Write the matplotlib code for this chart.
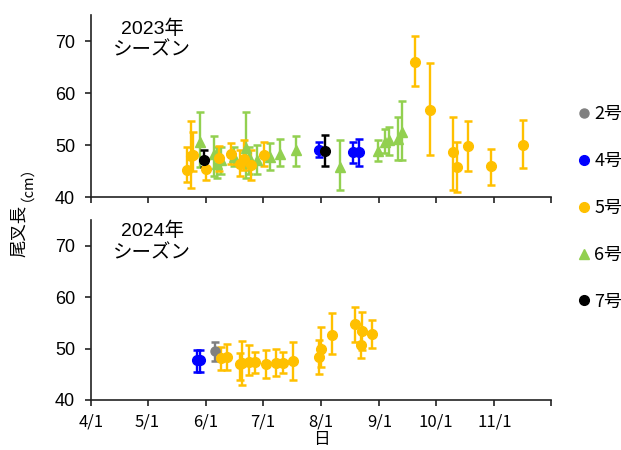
import matplotlib
matplotlib.use("Agg")
import matplotlib.pyplot as plt
from matplotlib.lines import Line2D
import pandas as pd

plt.rcParams['font.family'] = ['Liberation Sans', 'Noto Sans CJK JP', 'DejaVu Sans']

# ---------------- data ----------------
# 2023 season : date (MM-DD), mean, lower end, upper end
y23_5_dates = ["05-22", "05-24", "05-25", "06-01", "06-08", "06-14", "06-19", "06-21", "06-25", "07-02",
               "09-20", "09-28", "10-10", "10-12", "10-18", "10-30", "11-16"]
y23_5_mean = [45.1, 47.8, 48.0, 45.3, 47.5, 48.3, 46.4, 47.3, 46.2, 48.0, 66.0, 56.7, 48.6, 45.7, 49.8, 45.9, 50.0]
y23_5_lo = [42.9, 41.8, 45.0, 43.3, 45.0, 46.4, 44.0, 45.1, 43.3, 46.0, 61.3, 48.0, 41.4, 41.0, 45.0, 42.4, 45.5]
y23_5_hi = [49.6, 54.6, 52.5, 47.3, 49.9, 50.4, 49.0, 50.9, 49.0, 50.6, 70.9, 65.8, 55.4, 50.5, 54.6, 49.3, 54.8]

y23_6_dates = ["05-29", "06-05", "06-07", "06-09", "06-16", "06-22", "06-24", "06-28", "07-05", "07-10",
               "07-19", "08-11", "08-31", "09-04", "09-06", "09-11", "09-13"]
y23_6_mean = [50.6, 48.2, 46.3, 47.1, 47.7, 49.4, 47.7, 47.1, 47.7, 48.3, 49.0, 45.8, 48.8, 50.6, 50.9, 51.2, 52.5]
y23_6_lo = [45.8, 44.0, 43.6, 44.4, 45.9, 43.6, 44.5, 44.5, 45.1, 46.0, 46.0, 41.3, 46.9, 48.4, 48.1, 47.1, 47.1]
y23_6_hi = [56.3, 51.7, 49.6, 49.6, 49.6, 56.3, 49.7, 50.0, 50.3, 51.2, 51.8, 50.9, 50.9, 53.1, 53.4, 55.4, 58.4]

y23_4_dates = ["07-31", "08-18", "08-21"]
y23_4_mean = [49.0, 48.6, 48.6]
y23_4_lo = [47.7, 46.5, 45.9]
y23_4_hi = [50.6, 50.6, 51.2]

y23_7_dates = ["05-31", "08-03"]
y23_7_mean = [47.1, 48.9]
y23_7_lo = [45.8, 45.9]
y23_7_hi = [49.0, 51.9]

# 2024 season
y24_4_dates = ["05-27", "05-29"]
y24_4_mean = [47.7, 47.7]
y24_4_lo = [45.5, 45.4]
y24_4_hi = [49.8, 49.8]

y24_2_dates = ["06-06"]
y24_2_mean = [49.5]
y24_2_lo = [47.6]
y24_2_hi = [51.3]

y24_5_dates = ["06-09", "06-12", "06-19", "06-20", "06-24", "06-27", "07-03", "07-08", "07-12", "07-17",
               "07-31", "08-01", "08-07", "08-19", "08-22", "08-23", "08-28"]
y24_5_mean = [48.1, 48.3, 47.0, 47.1, 47.3, 47.3, 47.0, 47.2, 47.2, 47.6, 48.3, 50.0, 52.7, 54.7, 50.6, 53.4, 52.9]
y24_5_lo = [45.9, 45.8, 43.9, 42.9, 44.9, 45.2, 44.3, 44.6, 45.2, 43.9, 45.0, 46.4, 48.9, 51.3, 48.1, 49.7, 50.2]
y24_5_hi = [50.3, 50.8, 49.1, 51.5, 50.7, 49.4, 49.7, 50.0, 49.4, 51.3, 51.7, 54.2, 56.9, 58.0, 53.2, 57.1, 55.6]

month_ticks = ["04-01", "05-01", "06-01", "07-01", "08-01", "09-01", "10-01", "11-01", "12-01"]
month_labels = ["4/1", "5/1", "6/1", "7/1", "8/1", "9/1", "10/1", "11/1", ""]
season_labels = ["2023年\nシーズン", "2024年\nシーズン"]
legend_labels = ["2号", "4号", "5号", "6号", "7号"]

# ---------------- styles ----------------
COL = {"2号": "#808080", "4号": "#0000FF", "5号": "#FFC000", "6号": "#92D050", "7号": "#000000"}
MK = {"2号": "o", "4号": "o", "5号": "o", "6号": "^", "7号": "o"}
MS = {"2号": 6.5, "4号": 7, "5号": 7, "6号": 6.5, "7号": 7}


def to_dates(year, mds):
    return pd.to_datetime([f"{year}-{m}" for m in mds])


fig = plt.figure(figsize=(6.21, 4.5), dpi=100)
ax1 = fig.add_axes([91 / 621, 1 - 197 / 450, 460 / 621, 182 / 450])
ax2 = fig.add_axes([91 / 621, 1 - 400 / 450, 460 / 621, 180 / 450])

panels = [
    (ax1, 2023, 0.865, [("6号", y23_6_dates, y23_6_mean, y23_6_lo, y23_6_hi),
                        ("5号", y23_5_dates, y23_5_mean, y23_5_lo, y23_5_hi),
                        ("4号", y23_4_dates, y23_4_mean, y23_4_lo, y23_4_hi),
                        ("7号", y23_7_dates, y23_7_mean, y23_7_lo, y23_7_hi)]),
    (ax2, 2024, 0.878, [("4号", y24_4_dates, y24_4_mean, y24_4_lo, y24_4_hi),
                        ("2号", y24_2_dates, y24_2_mean, y24_2_lo, y24_2_hi),
                        ("5号", y24_5_dates, y24_5_mean, y24_5_lo, y24_5_hi)]),
]

for i, (ax, year, ty, series) in enumerate(panels):
    for name, d, m, lo, hi in series:
        x = to_dates(year, d)
        yerr = [[mm - l for mm, l in zip(m, lo)], [h - mm for mm, h in zip(m, hi)]]
        ax.errorbar(x, m, yerr=yerr, fmt=MK[name], color=COL[name], ecolor=COL[name],
                    markersize=MS[name], markeredgecolor=COL[name],
                    elinewidth=1.7, capsize=2.6, capthick=1.8)
    ax.set_ylim(40, 75)
    ax.set_yticks([40, 50, 60, 70])
    ticks = to_dates(year, month_ticks)
    ax.set_xlim(ticks[0], ticks[-1])
    ax.set_xticks(ticks)
    if i == 1:
        ax.set_xticklabels(month_labels, fontfamily=['Noto Sans CJK JP'], fontsize=12)
    else:
        ax.set_xticklabels([""] * len(month_ticks))
    for s in ["top", "right"]:
        ax.spines[s].set_visible(False)
    for s in ["left", "bottom"]:
        ax.spines[s].set_linewidth(1.2)
        ax.spines[s].set_color("#222222")
    ax.tick_params(axis="both", direction="out", length=4.5, width=1.2, color="#222222")
    ax.tick_params(axis="y", labelsize=13, pad=7)
    ax.tick_params(axis="x", pad=5)
    ax.text(0.133, ty, season_labels[i], transform=ax.transAxes, ha="center", va="center",
            fontsize=14, family=['Liberation Sans', 'Noto Sans CJK JP'], linespacing=1.35)

# axis labels
fig.text(19 / 621, 1 - 231 / 450, "尾叉長", rotation=90, ha="center", va="center",
         fontsize=12.5, family=['Noto Sans CJK JP'])
fig.text(19 / 621, 1 - 176 / 450, "（cm）", rotation=90, ha="center", va="center",
         fontsize=10.5, family=['Noto Sans CJK JP'])
fig.text(321 / 621, 2 / 450, "日", ha="center", va="bottom", fontsize=12,
         family=['Noto Sans CJK JP'])

handles = [Line2D([], [], linestyle="none", marker=MK[n], color=COL[n], markersize=MS[n],
                  markeredgecolor=COL[n]) for n in legend_labels]
fig.legend(handles, legend_labels, loc="center left", bbox_to_anchor=(568 / 621, 1 - 208 / 450),
           frameon=False, prop={"family": "Noto Sans CJK JP", "size": 13},
           handlelength=0.8, handletextpad=0.15, labelspacing=1.6, borderpad=0)

fig.savefig("out.png", dpi=100)
